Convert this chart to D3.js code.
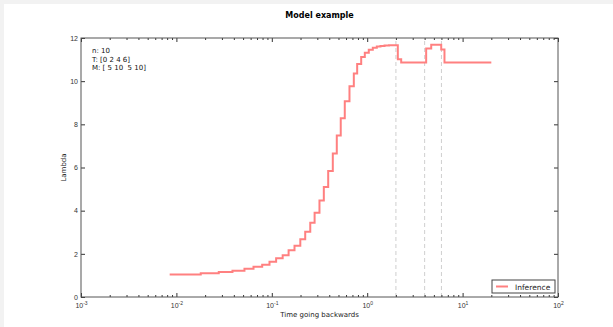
<!DOCTYPE html>
<html>
<head>
<meta charset="utf-8">
<script src="https://cdn.jsdelivr.net/npm/d3@7"></script>
<style>
  body { margin: 0; background: #f2f2f2; }
  svg { display: block; font-family: "DejaVu Sans", sans-serif; }
</style>
</head>
<body>
<svg id="chart" width="613" height="327"></svg>
<script>
// step boundaries (time) and lambda value on each interval
const breaks = [0.0085, 0.018, 0.0278, 0.0387, 0.0517, 0.0643, 0.0793, 0.0946, 0.111, 0.130,
  0.150, 0.173, 0.199, 0.224, 0.253, 0.281, 0.316, 0.351, 0.390, 0.436,
  0.480, 0.528, 0.582, 0.652, 0.724, 0.785, 0.865, 0.944, 1.039, 1.145,
  1.261, 1.378, 1.519, 1.692, 1.862, 2.094, 2.271, 4.15, 4.688, 5.968, 6.458, 20]
const lambdas = [1.04, 1.1, 1.16, 1.22, 1.31, 1.4, 1.5, 1.63, 1.79, 1.94,
  2.17, 2.37, 2.67, 3.02, 3.44, 3.9, 4.47, 5.1, 5.84, 6.65,
  7.48, 8.28, 9.07, 9.76, 10.35, 10.8, 11.12, 11.32, 11.46, 11.55,
  11.61, 11.63, 11.65, 11.66, 11.66, 11.01, 10.86, 11.51, 11.69, 11.47, 10.86]
const changeTimes = [2, 4, 6]
const yTicks = [0, 2, 4, 6, 8, 10, 12]
const xMajor = [1e-3, 1e-2, 1e-1, 1, 10, 100]
const xExp = ["-3", "-2", "-1", "0", "1", "2"]
const infoLines = ["n: 10", "T: [0 2 4 6]", "M: [ 5 10  5 10]"]

const svg = d3.select("#chart")
svg.append("rect").attr("x", 4).attr("y", 4).attr("width", 613).attr("height", 327).attr("fill", "white")

const margin = {left: 81, top: 38}
const w = 477, h = 259
const g = svg.append("g").attr("transform", "translate(" + margin.left + "," + margin.top + ")")

const x = d3.scaleLog().domain([1e-3, 100]).range([0, w])
const y = d3.scaleLinear().domain([0, 12]).range([h, 0])

// minor ticks 2..9 for each decade
const xMinor = []
for (let i = 0; i < xMajor.length - 1; i++) {
  for (let k = 2; k <= 9; k++) xMinor.push(xMajor[i] * k)
}

// dashed change lines
g.selectAll(".vline")
  .data(changeTimes)
  .enter()
  .append("line")
  .attr("x1", d => x(d)).attr("x2", d => x(d))
  .attr("y1", y(0)).attr("y2", y(12))
  .attr("stroke", "#cfcfcf")
  .attr("stroke-width", 1)
  .attr("stroke-dasharray", "4,3")

// step curve
const pts = lambdas.map((v, i) => [breaks[i], v])
pts.push([breaks[breaks.length - 1], lambdas[lambdas.length - 1]])
const line = d3.line()
  .x(d => x(d[0]))
  .y(d => y(d[1]))
  .curve(d3.curveStepAfter)
g.append("path")
  .datum(pts)
  .attr("d", line)
  .attr("fill", "none")
  .attr("stroke", "#ff8080")
  .attr("stroke-width", 2)

function styleAxis(sel) {
  sel.select(".domain").remove()
  sel.selectAll(".tick line").attr("stroke", "#333")
  sel.selectAll("text").attr("fill", "#333").attr("font-size", "7px")
}

// x axes bottom and top
const xb = g.append("g").attr("transform", "translate(0," + h + ")")
  .call(d3.axisBottom(x).tickValues(xMajor).tickSize(-4).tickPadding(4).tickFormat(""))
xb.call(styleAxis)
xb.selectAll(".tick text").each(function (d, i) {
  const t = d3.select(this).attr("dy", null).attr("y", 11).attr("font-size", "7px")
  t.append("tspan").text("10")
  t.append("tspan").attr("dy", -3).attr("font-size", "5px").text(xExp[i])
})
g.append("g").attr("transform", "translate(0," + h + ")")
  .call(d3.axisBottom(x).tickValues(xMinor).tickSize(-2).tickFormat(""))
  .call(styleAxis)
g.append("g")
  .call(d3.axisTop(x).tickValues(xMajor).tickSize(-4).tickFormat(""))
  .call(styleAxis)
g.append("g")
  .call(d3.axisTop(x).tickValues(xMinor).tickSize(-2).tickFormat(""))
  .call(styleAxis)

// y axes left and right
g.append("g")
  .call(d3.axisLeft(y).tickValues(yTicks).tickSize(-4).tickPadding(3))
  .call(styleAxis)
g.append("g").attr("transform", "translate(" + w + ",0)")
  .call(d3.axisRight(y).tickValues(yTicks).tickSize(-4).tickFormat(""))
  .call(styleAxis)

// frame
g.append("rect")
  .attr("width", w).attr("height", h)
  .attr("fill", "none")
  .attr("stroke", "#555")
  .attr("stroke-width", 1)

// titles
svg.append("text").attr("x", margin.left + w / 2).attr("y", 18)
  .attr("text-anchor", "middle").attr("font-size", "8px").attr("font-weight", "bold")
  .text("Model example")
svg.append("text").attr("x", margin.left + w / 2).attr("y", 317)
  .attr("text-anchor", "middle").attr("font-size", "7px").attr("fill", "#222")
  .text("Time going backwards")
svg.append("text").attr("transform", "translate(66," + (margin.top + h / 2) + ") rotate(-90)")
  .attr("text-anchor", "middle").attr("font-size", "7px").attr("fill", "#222")
  .text("Lambda")

// info text
g.selectAll(".info")
  .data(infoLines)
  .enter()
  .append("text")
  .attr("x", 11)
  .attr("y", (d, i) => 15 + i * 8.5)
  .attr("font-size", "7px")
  .attr("fill", "#111")
  .attr("xml:space", "preserve")
  .style("white-space", "pre")
  .text(d => d)

// legend
const lg = g.append("g").attr("transform", "translate(" + (w - 66) + "," + (h - 17) + ")")
lg.append("rect").attr("width", 63).attr("height", 13)
  .attr("fill", "white").attr("stroke", "#444").attr("stroke-width", 1)
lg.append("line").attr("x1", 4).attr("x2", 16).attr("y1", 6.5).attr("y2", 6.5)
  .attr("stroke", "#ff8080").attr("stroke-width", 2)
lg.append("text").attr("x", 23).attr("y", 9.5).attr("font-size", "7.5px").attr("fill", "#222")
  .text("Inference")
</script>
</body>
</html>
